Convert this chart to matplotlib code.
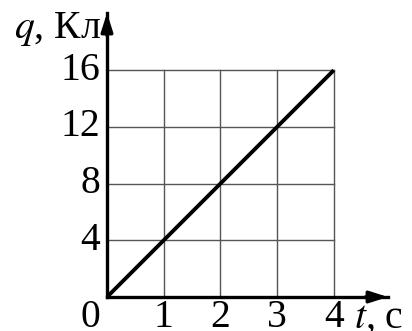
import matplotlib.pyplot as plt

# data
t = [0, 4]
q = [0, 16]
x_ticks = [1, 2, 3, 4]
y_ticks = [4, 8, 12, 16]

plt.rcParams['font.family'] = ['Liberation Serif', 'DejaVu Serif']
plt.rcParams['mathtext.fontset'] = 'stix'

fig = plt.figure(figsize=(4.12, 3.31), dpi=100)
W, H = 412, 331
# axes box in pixels: left 107, right 388, top 13, bottom 297
ax = fig.add_axes([107 / W, (H - 297) / H, 281 / W, 284 / H])
ax.set_xlim(0, 281 / 56.7)
ax.set_ylim(0, 284 / 56.7 * 4)

# grid inside the 4x16 area
for x in x_ticks:
    ax.plot([x, x], [0, 16], color='#555555', lw=1.0, zorder=1)
for y in y_ticks:
    ax.plot([0, 4], [y, y], color='#555555', lw=1.0, zorder=1)

ax.plot(t, q, color='black', lw=2.8, zorder=3, solid_capstyle='butt')

for s in ['top', 'right']:
    ax.spines[s].set_visible(False)
for s in ['left', 'bottom']:
    ax.spines[s].set_linewidth(2.4)
ax.set_xticks([])
ax.set_yticks([])

# arrow heads
xmax = ax.get_xlim()[1]
ymax = ax.get_ylim()[1]
ax.annotate('', xy=(xmax, 0), xytext=(xmax - 0.4, 0),
            arrowprops=dict(arrowstyle='-|>,head_length=1.1,head_width=0.35',
                            color='black', lw=2.4, shrinkA=0, shrinkB=0),
            annotation_clip=False)
ax.annotate('', xy=(0, ymax), xytext=(0, ymax - 1.6),
            arrowprops=dict(arrowstyle='-|>,head_length=1.1,head_width=0.35',
                            color='black', lw=2.4, shrinkA=0, shrinkB=0),
            annotation_clip=False)

fs = 28.5
ybase = -2.15
for x in x_ticks:
    ax.text(x, ybase, str(x), ha='center', va='baseline', fontsize=fs, clip_on=False)
for y in y_ticks:
    ax.text(-0.12, y, str(y), ha='right', va='center', fontsize=fs, clip_on=False)
ax.text(-0.3, ybase, '0', ha='center', va='baseline', fontsize=fs, clip_on=False)

ax.text(4.36, ybase, r'$t$, с', ha='left', va='baseline', fontsize=fs, clip_on=False)
ax.text(-0.1, ymax - 1.1, r'$q$, Кл', ha='right', va='center', fontsize=fs, clip_on=False)

fig.savefig('out.png', dpi=100)
